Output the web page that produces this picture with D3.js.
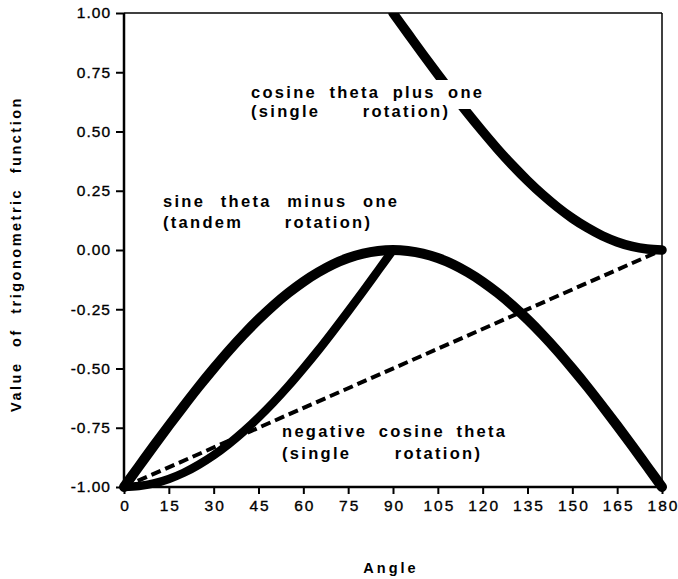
<!DOCTYPE html>
<html><head><meta charset="utf-8">
<script src="https://cdn.jsdelivr.net/npm/d3@7"></script>
<style>
body{margin:0;background:#fff;}
svg{display:block;}
text{font-family:"Liberation Sans",Arial,Helvetica,sans-serif;fill:#000;}
</style></head><body>
<svg id="chart" width="678" height="579"></svg>
<script>
// ---- data ----
const angleTicks = [0,15,30,45,60,75,90,105,120,135,150,165,180];
const valueTicks = [-1,-0.75,-0.5,-0.25,0,0.25,0.5,0.75,1];

const sineAngles = [0,5,10,15,20,25,30,35,40,45,50,55,60,65,70,75,80,85,90,
                    95,100,105,110,115,120,125,130,135,140,145,150,155,160,165,170,175,180];
const sineMinusOne = [-1.000,-0.913,-0.826,-0.741,-0.658,-0.577,-0.500,-0.426,-0.357,-0.293,-0.234,-0.181,-0.134,-0.094,-0.060,-0.034,-0.015,-0.004,0.000,
                      -0.004,-0.015,-0.034,-0.060,-0.094,-0.134,-0.181,-0.234,-0.293,-0.357,-0.426,-0.500,-0.577,-0.658,-0.741,-0.826,-0.913,-1.000];

const negCosAngles = [0,5,10,15,20,25,30,35,40,45,50,55,60,65,70,75,80,85,90];
const negativeCosine = [-1.000,-0.996,-0.985,-0.966,-0.940,-0.906,-0.866,-0.819,-0.766,-0.707,-0.643,-0.574,-0.500,-0.423,-0.342,-0.259,-0.174,-0.087,0.000];

const cosAngles = [90,95,100,105,110,115,120,125,130,135,140,145,150,155,160,165,170,175,180];
const cosinePlusOne = [1.000,0.913,0.826,0.741,0.658,0.577,0.500,0.426,0.357,0.293,0.234,0.181,0.134,0.094,0.060,0.034,0.015,0.004,0.000];

const chordAngles = [0,180];
const chordValues = [-1.00,0.00];

const labelCos = [["cosine","theta","plus","one"],["(single","rotation)"]];
const labelSine = [["sine","theta","minus","one"],["(tandem","rotation)"]];
const labelNeg = [["negative","cosine","theta"],["(single","rotation)"]];

// ---- drawing ----
const svg = d3.select("#chart");
const x = d3.scaleLinear().domain([0,180]).range([124,662]);
const y = d3.scaleLinear().domain([-1,1]).range([487,13]);

svg.append("defs").append("clipPath").attr("id","clipTop")
  .append("rect").attr("x",0).attr("y",y(1)).attr("width",678).attr("height",579);

// frame
svg.append("line").attr("x1",x(0)).attr("x2",x(180)).attr("y1",y(1)).attr("y2",y(1)).attr("stroke","#000").attr("stroke-width",1.5);
svg.append("line").attr("x1",x(180)).attr("x2",x(180)).attr("y1",y(1)).attr("y2",y(-1)).attr("stroke","#000").attr("stroke-width",1.5);

const yAxis = d3.axisLeft(y).tickValues(valueTicks).tickFormat(d=>d.toFixed(2)).tickSize(8).tickPadding(5);
const xAxis = d3.axisBottom(x).tickValues(angleTicks).tickFormat(d=>String(d)).tickSize(7).tickPadding(6);

const gy = svg.append("g").attr("transform",`translate(${x(0)},0)`).call(yAxis);
const gx = svg.append("g").attr("transform",`translate(0,${y(-1)})`).call(xAxis);
[gy,gx].forEach(g=>{
  g.select(".domain").attr("stroke","#000").attr("stroke-width",2.5);
  g.selectAll(".tick line").attr("stroke","#000").attr("stroke-width",2);
  g.selectAll(".tick text").attr("fill","#000").attr("stroke","#000").attr("stroke-width",0.35)
    .style("font-size","15.5px");
});
gy.selectAll(".tick text").style("letter-spacing","1px");
gx.selectAll(".tick text").style("letter-spacing","2px").attr("dx","1");
gy.select(".domain").attr("d",`M0,${y(1)}V${y(-1)}`);
gx.select(".domain").attr("d",`M${x(0)},0H${x(180)}`);

const line = d3.line().x(d=>x(d[0])).y(d=>y(d[1])).curve(d3.curveCatmullRom);
function series(a,v){ return a.map((d,i)=>[d,v[i]]); }

svg.append("path").attr("d",line(series(chordAngles,chordValues)))
  .attr("fill","none").attr("stroke","#000").attr("stroke-width",4).attr("stroke-dasharray","10,5");
svg.append("path").attr("d",line(series(negCosAngles,negativeCosine)))
  .attr("fill","none").attr("stroke","#000").attr("stroke-width",8.5).attr("stroke-linecap","round").attr("stroke-linejoin","round");
svg.append("path").attr("d",line(series(sineAngles,sineMinusOne)))
  .attr("fill","none").attr("stroke","#000").attr("stroke-width",10).attr("stroke-linecap","round").attr("stroke-linejoin","round");
svg.append("path").attr("d",line(series(cosAngles,cosinePlusOne))).attr("clip-path","url(#clipTop)")
  .attr("fill","none").attr("stroke","#000").attr("stroke-width",9.5).attr("stroke-linecap","round").attr("stroke-linejoin","round");

// white knockout behind the first line of the upper label (curve is hidden behind the text)
svg.append("rect").attr("x",436).attr("y",80).attr("width",52).attr("height",29).attr("fill","#fff");

// annotations: each line spans [x0, x1]; words spread evenly across the span
function annot(words, spans, ys){
  words.forEach((ln,li)=>{
    const [x0,x1] = spans[li];
    const nodes = ln.map(w=>svg.append("text").attr("y",ys[li]).text(w)
        .style("font-size","16.5px").style("font-weight","bold").style("letter-spacing","2.3px"));
    const widths = nodes.map(n=>n.node().getComputedTextLength()-2.3);
    const total = d3.sum(widths);
    const gap = ln.length>1 ? (x1-x0-total)/(ln.length-1) : 0;
    let cx = x0;
    nodes.forEach((n,i)=>{ n.attr("x",cx); cx += widths[i]+gap; });
  });
}
annot(labelCos, [[251,482],[251,448]], [98,117]);
annot(labelSine,[[163,397],[163,370]], [207,228]);
annot(labelNeg, [[282,505],[282,480]], [437,459]);

// axis titles
svg.append("text").attr("x",391).attr("y",573).attr("text-anchor","middle")
  .style("font-size","14.5px").style("font-weight","bold").style("letter-spacing","3px").text("Angle");
svg.append("text").attr("transform","translate(16,254) rotate(-90)").attr("text-anchor","middle").attr("dy","0.35em")
  .style("font-size","14.5px").style("font-weight","bold").style("letter-spacing","2.5px").style("word-spacing","8px")
  .text("Value of trigonometric function");
</script></body></html>
